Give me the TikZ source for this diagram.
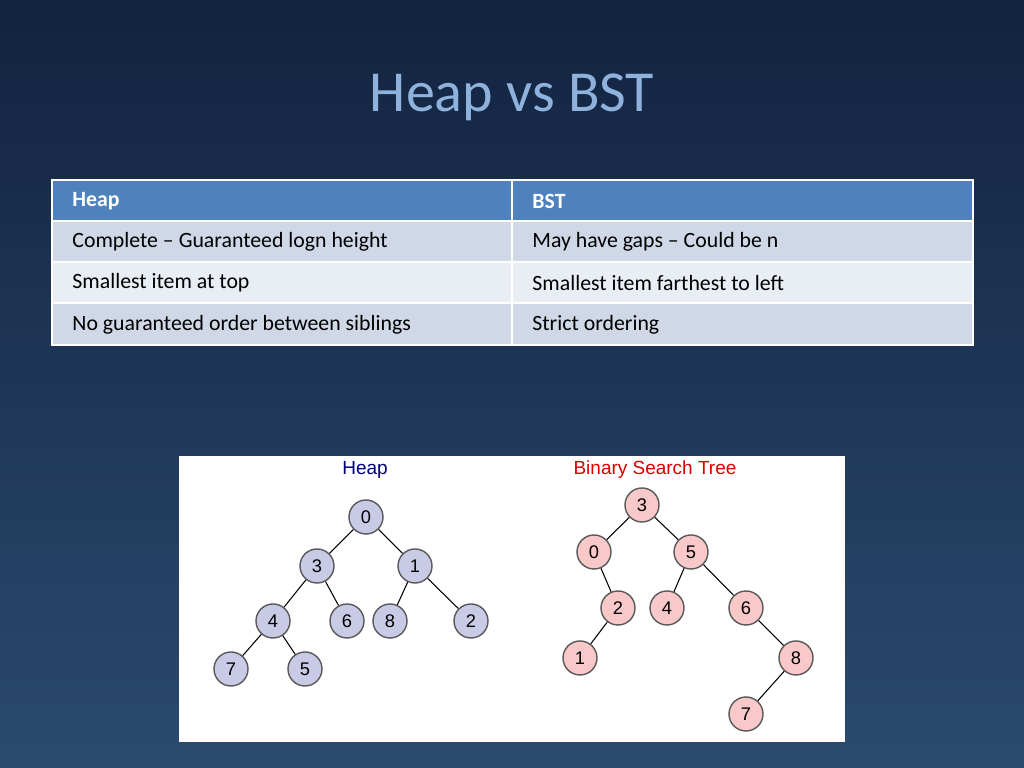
\documentclass[tikz,border=0pt]{standalone}
\usepackage{fontspec}
\setmainfont{Carlito}
\newfontfamily\arialfont{Liberation Sans}
\usepackage{tikz}
\usetikzlibrary{positioning}
\definecolor{bgtop}{HTML}{12233F}
\definecolor{bgbot}{HTML}{2B4A6E}
\definecolor{titleblue}{HTML}{8FB2DC}
\definecolor{hdrblue}{HTML}{4F81BD}
\definecolor{rowdark}{HTML}{D0D8E8}
\definecolor{rowlight}{HTML}{E9EDF4}
\definecolor{heapfill}{HTML}{C9CBE6}
\definecolor{bstfill}{HTML}{F9C9C9}
\begin{document}
\begin{tikzpicture}[
    x=0.01cm, y=-0.01cm,
    cell/.style={anchor=west, font=\fontsize{6.2}{7}\selectfont, text=black},
    hcell/.style={anchor=west, font=\fontsize{6.2}{7}\selectfont\bfseries, text=white},
    hnode/.style={circle, draw=gray!70!black, fill=heapfill, minimum size=0.34cm, inner sep=0pt, font=\arialfont\fontsize{5.2}{6}\selectfont},
    bnode/.style={circle, draw=gray!70!black, fill=bstfill, minimum size=0.34cm, inner sep=0pt, font=\arialfont\fontsize{5.2}{6}\selectfont},
    edge/.style={draw=black, line width=0.3pt}
]
    \useasboundingbox (0,0) rectangle (1024,768);
    \shade[top color=bgtop, bottom color=bgbot] (0,0) rectangle (1024,768);
    \node[text=titleblue, font=\fontsize{16.5}{18}\selectfont] (title) at (512,97) {Heap vs BST};

    % table
    \fill[hdrblue] (52,180) rectangle (973,221);
    \fill[rowdark] (52,221) rectangle (973,262);
    \fill[rowlight] (52,262) rectangle (973,303);
    \fill[rowdark] (52,303) rectangle (973,345);
    \draw[white, line width=0.8pt] (52,180) rectangle (973,345);
    \foreach \y in {221,262,303} \draw[white, line width=0.8pt] (52,\y) -- (973,\y);
    \draw[white, line width=0.8pt] (512,180) -- (512,345);
    \node[hcell] (h1) at (60,201) {Heap};
    \node[hcell] (h2) at (520,201) {BST};
    \node[cell] (a1) at (60,242) {Complete -- Guaranteed logn height};
    \node[cell] (a2) at (520,242) {May have gaps -- Could be n};
    \node[cell] (b1) at (60,283) {Smallest item at top};
    \node[cell] (b2) at (520,283) {Smallest item farthest to left};
    \node[cell] (c1) at (60,325) {No guaranteed order between siblings};
    \node[cell] (c2) at (520,325) {Strict ordering};

    % trees
    \fill[white] (179,456) rectangle (845,742);
    \node[text=blue!50!black, font=\arialfont\fontsize{5.4}{6}\selectfont] (heaplbl) at (365,470) {Heap};
    \node[text=red!85!black, font=\arialfont\fontsize{5.4}{6}\selectfont] (bstlbl) at (655,470) {Binary Search Tree};

    \node[hnode] (h0) at (366,517) {0};
    \node[hnode] (h3) at (317,566) {3};
    \node[hnode] (h1n) at (415,566) {1};
    \node[hnode] (h4) at (273,621) {4};
    \node[hnode] (h6) at (347,621) {6};
    \node[hnode] (h8) at (390,621) {8};
    \node[hnode] (h2n) at (471,621) {2};
    \node[hnode] (h7) at (231,669) {7};
    \node[hnode] (h5) at (305,669) {5};
    \draw[edge] (h0) -- (h3);
    \draw[edge] (h0) -- (h1n);
    \draw[edge] (h3) -- (h4);
    \draw[edge] (h3) -- (h6);
    \draw[edge] (h1n) -- (h8);
    \draw[edge] (h1n) -- (h2n);
    \draw[edge] (h4) -- (h7);
    \draw[edge] (h4) -- (h5);

    \node[bnode] (b3) at (642,505) {3};
    \node[bnode] (b0) at (594,552) {0};
    \node[bnode] (b5) at (691,552) {5};
    \node[bnode] (b2) at (618,608) {2};
    \node[bnode] (b4) at (667,608) {4};
    \node[bnode] (b6) at (746,608) {6};
    \node[bnode] (b1) at (580,658) {1};
    \node[bnode] (b8) at (796,658) {8};
    \node[bnode] (b7) at (746,714) {7};
    \draw[edge] (b3) -- (b0);
    \draw[edge] (b3) -- (b5);
    \draw[edge] (b0) -- (b2);
    \draw[edge] (b5) -- (b4);
    \draw[edge] (b5) -- (b6);
    \draw[edge] (b2) -- (b1);
    \draw[edge] (b6) -- (b8);
    \draw[edge] (b8) -- (b7);
\end{tikzpicture}
\end{document}
